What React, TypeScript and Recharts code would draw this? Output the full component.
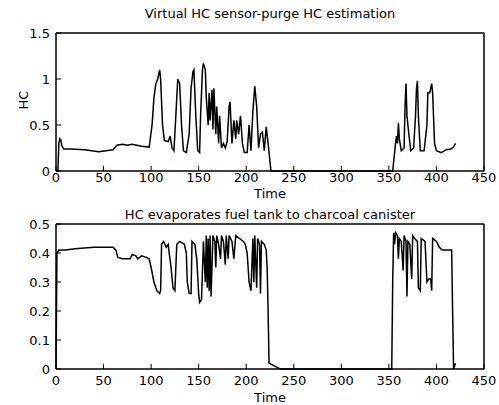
import React from 'react';
import { LineChart, Line, XAxis, YAxis, ReferenceArea } from 'recharts';

// Virtual HC sensor: purge HC estimation
const hcTime = [
  0, 2, 3, 4, 5, 6, 8, 15, 30, 45, 60, 64, 70, 75, 80, 85, 90, 98,
  101, 103, 105, 107, 109, 110, 112, 114, 118, 120, 122, 124, 126, 128, 130, 132, 134, 137,
  140, 142, 144, 145, 147, 149, 151, 152, 154, 155, 157, 158, 160, 161, 162, 164, 165, 166,
  168, 169, 171, 172, 174, 176, 178, 180, 182, 183, 185, 187, 189, 190, 192, 194, 196, 198,
  201, 203, 205, 207, 209, 211, 213, 215, 217, 219, 221, 223, 225, 226,
  354, 357, 358, 359, 360, 361, 363, 366, 367, 368, 369, 371, 373, 376, 378, 379, 380, 381,
  383, 387, 390, 391, 393, 395, 396, 398, 400, 405, 410, 415, 418, 420,
];
const hcValue = [
  0, 0, 0.3, 0.35, 0.34, 0.28, 0.24, 0.24, 0.23, 0.21, 0.23, 0.28, 0.29, 0.28, 0.29, 0.28, 0.27, 0.26,
  0.5, 0.8, 0.95, 1.0, 1.1, 1.0, 0.5, 0.33, 0.32, 0.38, 0.25, 0.22, 0.6, 1.0, 0.95, 0.5, 0.22, 0.2,
  0.4, 0.9, 1.08, 1.1, 0.6, 0.22, 0.2, 0.6, 1.1, 1.17, 1.1, 0.8, 0.5, 0.85, 0.55, 0.88, 0.45, 0.9,
  0.4, 0.7, 0.3, 0.6, 0.25, 0.3, 0.25, 0.32, 0.7, 0.75, 0.3, 0.55, 0.35, 0.55, 0.4, 0.6, 0.3, 0.2,
  0.2, 0.5, 0.22, 0.65, 0.92, 0.7, 0.25, 0.4, 0.42, 0.22, 0.48, 0.3, 0.1, 0,
  0, 0.3, 0.38, 0.3, 0.52, 0.35, 0.22, 0.25, 0.7, 0.95, 0.6, 0.4, 0.22, 0.25, 0.6, 0.9, 0.98, 0.6,
  0.22, 0.22, 0.5, 0.85, 0.85, 0.95, 0.85, 0.3, 0.22, 0.2, 0.23, 0.24, 0.26, 0.3,
];

// HC evaporates fuel tank to charcoal canister
const evapTime = [
  0, 1, 3, 10, 20, 40, 60, 63, 65, 70, 78, 80, 84, 86, 90, 95, 98,
  100, 103, 106, 109, 110, 111, 113, 116, 118, 119, 121, 123, 125, 127, 130, 135, 137, 138,
  140, 142, 143, 146, 148, 150, 151, 153, 155, 157, 158, 159, 160, 161, 162, 163, 165, 167,
  168, 169, 171, 173, 174, 176, 178, 179, 181, 182, 185, 187, 189, 193, 197, 199,
  201, 203, 205, 207, 208, 209, 211, 212, 214, 215, 216, 219, 221, 222, 223, 224, 227, 233, 236,
  353, 354, 355, 356, 357, 359, 360, 361, 363, 365, 366, 368, 369, 370, 372, 374, 375, 377,
  380, 381, 383, 384, 388, 390, 392, 394, 395, 396, 400, 403, 406, 410, 414, 416, 417, 418, 420,
];
const evapValue = [
  0, 0.4, 0.41, 0.41, 0.415, 0.42, 0.42, 0.41, 0.385, 0.38, 0.38, 0.395, 0.39, 0.38, 0.39, 0.385, 0.38,
  0.35, 0.3, 0.27, 0.26, 0.27, 0.43, 0.44, 0.42, 0.43, 0.4, 0.35, 0.28, 0.27, 0.43, 0.44, 0.43, 0.4, 0.3,
  0.26, 0.26, 0.44, 0.43, 0.38, 0.26, 0.23, 0.24, 0.44, 0.3, 0.46, 0.28, 0.45, 0.27, 0.46, 0.25, 0.46, 0.44,
  0.35, 0.46, 0.43, 0.38, 0.46, 0.44, 0.36, 0.46, 0.38, 0.46, 0.44, 0.38, 0.46, 0.45, 0.44, 0.43,
  0.4, 0.3, 0.27, 0.45, 0.3, 0.46, 0.28, 0.45, 0.43, 0.26, 0.44, 0.43, 0.41, 0.35, 0.2, 0.02, 0.015, 0.005, 0,
  0, 0.3, 0.47, 0.43, 0.47, 0.46, 0.38, 0.45, 0.44, 0.34, 0.46, 0.44, 0.25, 0.44, 0.43, 0.31, 0.46, 0.45,
  0.44, 0.28, 0.27, 0.45, 0.44, 0.3, 0.31, 0.31, 0.27, 0.45, 0.44, 0.42, 0.41, 0.41, 0.41, 0.41, 0.2, 0, 0.02,
];

const timeTicks = [0, 50, 100, 150, 200, 250, 300, 350, 400, 450];
const hcTicks = [0, 0.5, 1, 1.5];
const evapTicks = [0, 0.1, 0.2, 0.3, 0.4, 0.5];

const hcData = hcTime.map((t, i) => ({ t, v: hcValue[i] }));
const evapData = evapTime.map((t, i) => ({ t, v: evapValue[i] }));

const font = '"DejaVu Sans", "Liberation Sans", Arial, sans-serif';
const tickStyle = { fill: '#000', fontSize: 13, fontFamily: font };

function Panel({ data, yTicks, yMax, height, margin, xTickMargin }: any) {
  return (
    <LineChart width={499} height={height} data={data} margin={margin}>
      <XAxis
        dataKey="t"
        type="number"
        domain={[0, 450]}
        ticks={timeTicks}
        interval={0}
        height={20}
        tickSize={-5}
        tickMargin={xTickMargin}
        stroke="#000"
        tick={tickStyle}
      />
      <XAxis
        xAxisId="top"
        dataKey="t"
        type="number"
        orientation="top"
        domain={[0, 450]}
        ticks={timeTicks}
        interval={0}
        height={1}
        tickSize={-5}
        tick={false}
        stroke="#000"
      />
      <YAxis
        type="number"
        domain={[0, yMax]}
        ticks={yTicks}
        interval={0}
        width={40}
        tickSize={-5}
        tickMargin={11}
        stroke="#000"
        tick={tickStyle}
      />
      <YAxis
        yAxisId="right"
        orientation="right"
        type="number"
        domain={[0, yMax]}
        ticks={yTicks}
        interval={0}
        width={1}
        tickSize={-5}
        tick={false}
        stroke="#000"
      />
      <ReferenceArea
        x1={0}
        x2={450}
        y1={0}
        y2={yMax}
        fill="none"
        stroke="#000"
        strokeWidth={1}
        ifOverflow="visible"
      />
      <Line
        dataKey="v"
        type="linear"
        stroke="#000"
        strokeWidth={1.5}
        dot={false}
        isAnimationActive={false}
      />
    </LineChart>
  );
}

const text = (s: string, x: number, y: number, extra: any = {}) => (
  <div
    style={{
      position: 'absolute',
      left: x,
      top: y,
      transform: 'translate(-50%, -50%)',
      whiteSpace: 'nowrap',
      fontFamily: font,
      fontSize: 13,
      lineHeight: '15px',
      color: '#000',
      ...extra,
    }}
  >
    {s}
  </div>
);

export default function App() {
  return (
    <div style={{ position: 'absolute', left: 0, top: 0, width: 499, height: 405, background: '#fff' }}>
      <div style={{ position: 'absolute', left: 0, top: 0 }}>
        <Panel
          data={hcData}
          yTicks={hcTicks}
          yMax={1.5}
          height={200}
          margin={{ top: 32, right: 14, left: 16, bottom: 9 }}
          xTickMargin={7}
        />
      </div>
      <div style={{ position: 'absolute', left: 0, top: 200 }}>
        <Panel
          data={evapData}
          yTicks={evapTicks}
          yMax={0.5}
          height={205}
          margin={{ top: 23, right: 14, left: 16, bottom: 16 }}
          xTickMargin={12}
        />
      </div>
      {text('Virtual HC sensor-purge HC estimation', 270, 13)}
      {text('Time', 270, 193)}
      {text('HC', 23, 100, { transform: 'translate(-50%, -50%) rotate(-90deg)' })}
      {text('HC evaporates fuel tank to charcoal canister', 270, 214)}
      {text('Time', 270, 397)}
    </div>
  );
}
